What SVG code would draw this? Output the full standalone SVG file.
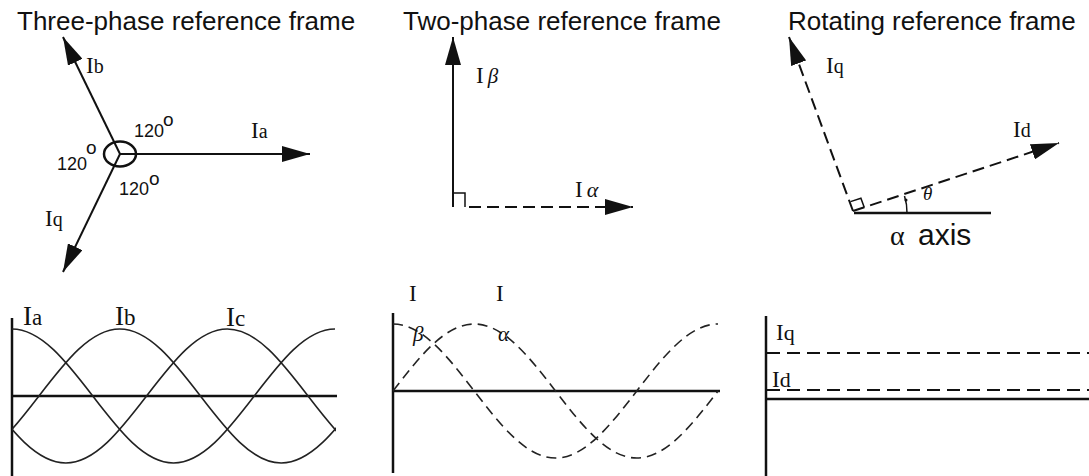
<svg xmlns="http://www.w3.org/2000/svg" width="1089" height="476" viewBox="0 0 1089 476">
<defs>
<style>
.title{font-family:"Liberation Sans",Arial,sans-serif;font-size:26px;fill:#111}
.deg{font-family:"Liberation Sans",Arial,sans-serif;font-size:18px;fill:#111}
.sup{font-size:19px}
.lbl{font-family:"Liberation Serif","Times New Roman",serif;font-size:23px;fill:#111}
.sub{font-size:20px}
.big{font-family:"Liberation Serif","Times New Roman",serif;font-size:27px;fill:#111}
.bsub{font-size:23px}
.gr{font-family:"Liberation Serif","Times New Roman",serif;font-style:italic;fill:#111}
.ln{stroke:#111;stroke-width:2;fill:none}
.dash{stroke:#111;stroke-width:2;fill:none;stroke-dasharray:12 6}
.wave{stroke:#222;stroke-width:1.6;fill:none}
.dwave{stroke:#222;stroke-width:1.6;fill:none;stroke-dasharray:10 6}
.axis{stroke:#111;stroke-width:2.5;fill:none}
.thin{stroke:#111;stroke-width:1.5;fill:none}
</style>
<marker id="arr" viewBox="0 0 28 16" markerWidth="28" markerHeight="16" refX="28" refY="8" orient="auto" markerUnits="userSpaceOnUse">
<path d="M0,0 L28,8 L0,16 z" fill="#111"/>
</marker>
<clipPath id="clip1"><rect x="12" y="300" width="324" height="176"/></clipPath>
</defs>

<g id="titles">
<text class="title" x="17" y="30">Three-phase reference frame</text>
<text class="title" x="403" y="30">Two-phase reference frame</text>
<text class="title" x="788" y="30">Rotating reference frame</text>
</g>

<g id="connectors">
<line class="ln" x1="120" y1="154" x2="310" y2="154" marker-end="url(#arr)"/>
<line class="ln" x1="120" y1="154" x2="63" y2="37" marker-end="url(#arr)"/>
<line class="ln" x1="120" y1="154" x2="63" y2="272" marker-end="url(#arr)"/>
<line class="ln" x1="453" y1="207" x2="453" y2="37" marker-end="url(#arr)"/>
<line class="dash" x1="469" y1="207" x2="633" y2="207" marker-end="url(#arr)"/>
<line class="dash" x1="853" y1="211" x2="789" y2="37" marker-end="url(#arr)"/>
<line class="dash" x1="853" y1="211" x2="1059" y2="143" marker-end="url(#arr)"/>
</g>

<g id="three-phase">
<ellipse class="axis" cx="120" cy="154" rx="16" ry="12.5"/>
<text class="lbl" x="86" y="73">I<tspan class="sub">b</tspan></text>
<text class="lbl" x="251" y="138">I<tspan class="sub">a</tspan></text>
<text class="lbl" x="45" y="226">I<tspan class="sub">q</tspan></text>
<text class="deg" x="134" y="137">120<tspan class="sup" dx="-1" dy="-11">o</tspan></text>
<text class="deg" x="57" y="170">120<tspan class="sup" dx="-1" dy="-16">o</tspan></text>
<text class="deg" x="119" y="195">120<tspan class="sup" dx="0" dy="-10">o</tspan></text>
</g>

<g id="two-phase">
<path class="thin" d="M453,193 H465 V207"/>
<text class="lbl" x="476" y="83">I<tspan class="gr" dx="4" font-size="21">β</tspan></text>
<text class="lbl" x="575" y="197">I<tspan class="gr" dx="4" font-size="22">α</tspan></text>
</g>

<g id="rotating">
<line class="axis" x1="854" y1="213" x2="991" y2="213"/>
<polyline class="thin" points="850.5,201.6 860.9,198.2 864.3,207.6"/>
<path class="thin" d="M907,213 A53,53 0 0,0 904.5,196"/>
<circle cx="906" cy="200" r="1.5" fill="#111"/>
<text class="gr" x="923" y="200" font-size="19">θ</text>
<text class="lbl" x="826" y="73">I<tspan class="sub">q</tspan></text>
<text class="lbl" x="1013" y="137">I<tspan class="sub">d</tspan></text>
<text x="890" y="245" fill="#111"><tspan font-family="Liberation Serif, serif" font-size="28">α</tspan><tspan x="918" font-family="Liberation Sans, Arial, sans-serif" font-size="30">axis</tspan></text>
</g>

<g id="three-phase-waves">
<line class="axis" x1="12" y1="318" x2="12" y2="476"/>
<line class="axis" x1="12" y1="396" x2="337" y2="396"/>
<g clip-path="url(#clip1)">
<path class="wave" d="M12,329 c29.22,0 54.42,32.68 80.75,67 c26.33,34.32 51.53,67 80.75,67 c29.22,0 54.42,-32.68 80.75,-67 c26.33,-34.32 51.53,-67 80.75,-67"/>
<path class="wave" d="M-203.3,329 c29.22,0 54.42,32.68 80.75,67 c26.33,34.32 51.53,67 80.75,67 c29.22,0 54.42,-32.68 80.75,-67 c26.33,-34.32 51.53,-67 80.75,-67 c29.22,0 54.42,32.68 80.75,67 c26.33,34.32 51.53,67 80.75,67 c29.22,0 54.42,-32.68 80.75,-67 c26.33,-34.32 51.53,-67 80.75,-67"/>
<path class="wave" d="M-95.7,329 c29.22,0 54.42,32.68 80.75,67 c26.33,34.32 51.53,67 80.75,67 c29.22,0 54.42,-32.68 80.75,-67 c26.33,-34.32 51.53,-67 80.75,-67 c29.22,0 54.42,32.68 80.75,67 c26.33,34.32 51.53,67 80.75,67 c29.22,0 54.42,-32.68 80.75,-67 c26.33,-34.32 51.53,-67 80.75,-67"/>
</g>
<text class="big" x="23" y="325">I<tspan class="bsub">a</tspan></text>
<text class="big" x="115" y="325">I<tspan class="bsub">b</tspan></text>
<text class="big" x="226" y="326">I<tspan class="bsub">c</tspan></text>
</g>

<g id="two-phase-waves">
<line class="axis" x1="393" y1="313" x2="393" y2="473"/>
<line class="axis" x1="393" y1="391" x2="720" y2="391"/>
<path class="dwave" d="M393,391 c26.5,-34.32 51.85,-67 81.25,-67 c29.4,0 54.75,32.68 81.25,67 c26.5,34.32 51.85,67 81.25,67 c29.4,0 54.75,-32.68 81.25,-67"/>
<path class="dwave" d="M393,324 c29.4,0 54.75,32.68 81.25,67 c26.5,34.32 51.850,67 81.25,67 c29.4,0 54.75,-32.68 81.25,-67 c26.5,-34.32 51.85,-67 81.25,-67"/>
<text class="lbl" x="409" y="301" font-size="25">I</text>
<text class="gr" x="413" y="341" font-size="21">β</text>
<text class="lbl" x="496" y="301" font-size="25">I</text>
<text class="gr" x="498" y="341" font-size="21">α</text>
</g>

<g id="rotating-waves">
<line class="axis" x1="766" y1="316" x2="766" y2="476"/>
<line class="axis" x1="766" y1="399" x2="1089" y2="399"/>
<line class="ln" x1="767" y1="353" x2="1089" y2="353" stroke-dasharray="13 7"/>
<line class="ln" x1="767" y1="390" x2="1089" y2="390" stroke-dasharray="13 7"/>
<text class="lbl" x="776" y="340" font-size="24">I<tspan font-size="22">q</tspan></text>
<text class="lbl" x="772" y="387" font-size="24">I<tspan font-size="22">d</tspan></text>
</g>
</svg>
